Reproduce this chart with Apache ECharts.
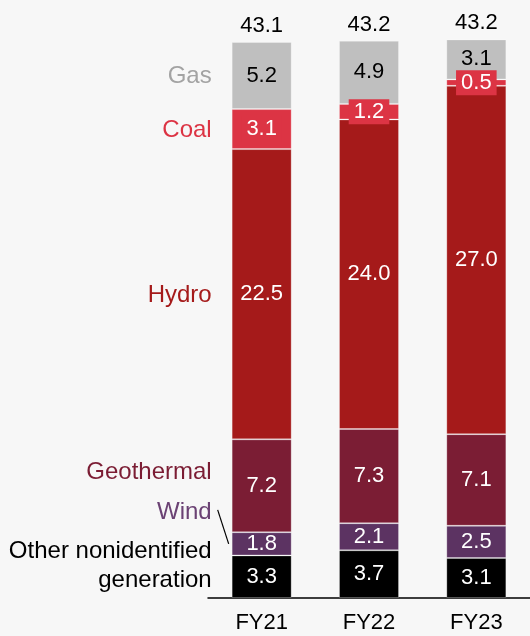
<!DOCTYPE html>
<html>
<head>
<meta charset="utf-8">
<script src="https://cdn.jsdelivr.net/npm/echarts@6/dist/echarts.min.js"></script>
<style>
  html, body { margin: 0; padding: 0; background: #f7f7f7; }
  #chart { width: 530px; height: 636px; }
</style>
</head>
<body>
<div id="chart"></div>
<script>
// Generation mix by fiscal year (TWh)
const years = ['FY21', 'FY22', 'FY23'];
const other = [3.3, 3.7, 3.1];
const wind = [1.8, 2.1, 2.5];
const geothermal = [7.2, 7.3, 7.1];
const hydro = [22.5, 24.0, 27.0];
const coal = [3.1, 1.2, 0.5];
const gas = [5.2, 4.9, 3.1];
const totals = [43.1, 43.2, 43.2];

const FONT = '"Liberation Sans", Arial, sans-serif';

// bottom-to-top stacking order
const layers = [
  { name: 'Other nonidentified\ngeneration', data: other, color: '#000000', text: '#ffffff', nameColor: '#000000', nameShift: -11 },
  { name: 'Wind', data: wind, color: '#5c3362', text: '#ffffff', nameColor: '#6b4274', nameShift: -31 },
  { name: 'Geothermal', data: geothermal, color: '#7b1d34', text: '#ffffff', nameColor: '#7b1d34', nameShift: -13 },
  { name: 'Hydro', data: hydro, color: '#a51a1a', text: '#ffffff', nameColor: '#a51a1a', nameShift: 1 },
  { name: 'Coal', data: coal, color: '#dc3444', text: '#ffffff', nameColor: '#dc3444', nameShift: 1, boxed: true },
  { name: 'Gas', data: gas, color: '#bfbfbf', text: '#000000', nameColor: '#a3a3a3', nameShift: 1 }
];

// midpoint of each layer in the first column, for the side labels
let base = 0;
const mids = layers.map(l => {
  const m = base + l.data[0] / 2;
  base += l.data[0];
  return m;
});

const series = layers.map((l, i) => ({
  name: l.name,
  type: 'bar',
  stack: 'mix',
  barWidth: 60,
  data: l.data,
  itemStyle: { color: l.color, borderColor: 'rgba(255,255,255,0.25)', borderWidth: 1 },
  label: {
    show: true,
    position: 'inside',
    formatter: p => p.value.toFixed(1),
    color: l.text,
    fontFamily: FONT,
    fontSize: 22,
    backgroundColor: l.boxed ? l.color : 'transparent',
    padding: l.boxed ? [2, 5, 1, 5] : 0
  },
  markPoint: {
    symbol: 'circle',
    symbolSize: 0,
    silent: true,
    data: [{ coord: [0, mids[i]] }],
    label: {
      show: true,
      position: 'left',
      distance: 50,
      offset: [0, l.nameShift],
      formatter: l.name,
      align: 'right',
      color: l.nameColor,
      fontFamily: FONT,
      fontSize: 24,
      lineHeight: 29
    }
  }
}));

// totals above each column
series.push({
  name: 'Total',
  type: 'bar',
  stack: 'mix',
  barWidth: 60,
  data: years.map(() => 0),
  itemStyle: { color: 'transparent' },
  label: {
    show: true,
    position: 'top',
    distance: 5,
    formatter: p => totals[p.dataIndex].toFixed(1),
    color: '#000000',
    fontFamily: FONT,
    fontSize: 22
  }
});

const chart = echarts.init(document.getElementById('chart'));
chart.setOption({
  backgroundColor: '#f7f7f7',
  animation: false,
  grid: { left: 208, right: -2, top: 17.5, bottom: 38 },
  xAxis: {
    type: 'category',
    data: years,
    axisLine: { lineStyle: { color: '#000000', width: 1.5 } },
    axisTick: { show: false },
    axisLabel: { color: '#000000', fontFamily: FONT, fontSize: 22, margin: 14 }
  },
  yAxis: {
    type: 'value',
    min: 0,
    max: 45,
    show: false,
    splitLine: { show: false }
  },
  series: series
});

// leader line from the Wind label to the Wind segment of the first column
const windIdx = 1;
const barLeft = chart.convertToPixel({ xAxisIndex: 0 }, years[0]) - 30;
const windMid = chart.convertToPixel({ yAxisIndex: 0 }, mids[windIdx]);
chart.setOption({
  graphic: [{
    type: 'line',
    silent: true,
    shape: { x1: barLeft - 14, y1: windMid + layers[windIdx].nameShift - 3, x2: barLeft - 3, y2: windMid },
    style: { stroke: '#000000', lineWidth: 1.2 }
  }]
});
</script>
</body>
</html>
